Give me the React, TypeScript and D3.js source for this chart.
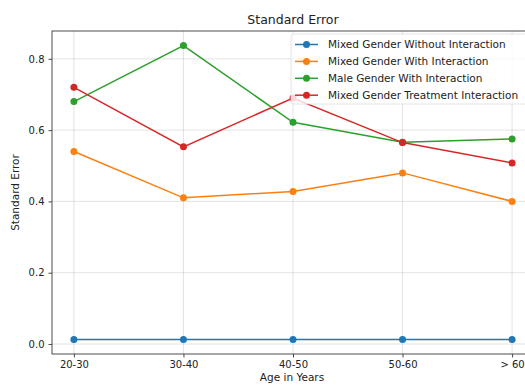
import React, { useEffect, useRef } from 'react';
import * as d3 from 'd3';

const ageGroups = ['20-30', '30-40', '40-50', '50-60', '> 60'];
const seriesNames = [
  'Mixed Gender Without Interaction',
  'Mixed Gender With Interaction',
  'Male Gender With Interaction',
  'Mixed Gender Treatment Interaction',
];
const mixedWithout = [0.013, 0.013, 0.013, 0.013, 0.013];
const mixedWith = [0.54, 0.41, 0.428, 0.48, 0.40];
const maleWith = [0.68, 0.837, 0.622, 0.566, 0.575];
const mixedTreatment = [0.72, 0.553, 0.69, 0.565, 0.508];
const yTicks = [0.0, 0.2, 0.4, 0.6, 0.8];
const colors = ['#1f77b4', '#ff7f0e', '#2ca02c', '#d62728'];

const App = () => {
  const svgRef = useRef<SVGSVGElement>(null);

  useEffect(() => {
    const svg = d3.select(svgRef.current);
    svg.selectAll('*').remove();

    const width = 525;
    const height = 389;
    const margin = { top: 31, right: -9, bottom: 35, left: 52 };
    const innerW = width - margin.left - margin.right;
    const innerH = height - margin.top - margin.bottom;
    const font = 'DejaVu Sans, sans-serif';

    svg.attr('width', width).attr('height', height);

    const x = d3.scalePoint<string>()
      .domain(ageGroups)
      .range([0, innerW])
      .padding(0.2);

    const y = d3.scaleLinear()
      .domain([-0.028, 0.878])
      .range([innerH, 0]);

    const g = svg.append('g')
      .attr('transform', `translate(${margin.left},${margin.top})`);

    // grid
    g.append('g')
      .selectAll('line.gx')
      .data(ageGroups)
      .enter().append('line')
      .attr('x1', d => x(d)!)
      .attr('x2', d => x(d)!)
      .attr('y1', 0)
      .attr('y2', innerH)
      .attr('stroke', '#b0b0b0')
      .attr('stroke-opacity', 0.45)
      .attr('stroke-width', 0.8);

    g.append('g')
      .selectAll('line.gy')
      .data(yTicks)
      .enter().append('line')
      .attr('x1', 0)
      .attr('x2', innerW)
      .attr('y1', d => y(d))
      .attr('y2', d => y(d))
      .attr('stroke', '#b0b0b0')
      .attr('stroke-opacity', 0.45)
      .attr('stroke-width', 0.8);

    // series
    const allSeries = [mixedWithout, mixedWith, maleWith, mixedTreatment];
    const line = d3.line<number>()
      .x((_, i) => x(ageGroups[i])!)
      .y(d => y(d));

    allSeries.forEach((vals, si) => {
      g.append('path')
        .datum(vals)
        .attr('d', line)
        .attr('fill', 'none')
        .attr('stroke', colors[si])
        .attr('stroke-width', 1.5);
      g.selectAll(`circle.s${si}`)
        .data(vals)
        .enter().append('circle')
        .attr('cx', (_, i) => x(ageGroups[i])!)
        .attr('cy', d => y(d))
        .attr('r', 3.5)
        .attr('fill', colors[si]);
    });

    // axes
    const xAxis = g.append('g')
      .attr('transform', `translate(0,${innerH})`)
      .call(d3.axisBottom(x).tickSize(3.5).tickPadding(3));
    const yAxis = g.append('g')
      .call(d3.axisLeft(y).tickValues(yTicks).tickFormat(d3.format('.1f')).tickSize(3.5).tickPadding(4));

    [xAxis, yAxis].forEach(a => {
      a.selectAll('text')
        .style('font-family', font)
        .style('font-size', '10px')
        .attr('fill', '#222');
      a.selectAll('line').attr('stroke', '#222').attr('stroke-width', 0.8);
      a.select('.domain').remove();
    });

    // spines
    g.append('rect')
      .attr('x', 0)
      .attr('y', 0)
      .attr('width', innerW)
      .attr('height', innerH)
      .attr('fill', 'none')
      .attr('stroke', '#222')
      .attr('stroke-width', 0.8);

    // title and labels
    svg.append('text')
      .attr('x', margin.left + innerW / 2)
      .attr('y', 24)
      .attr('text-anchor', 'middle')
      .style('font-family', font)
      .style('font-size', '12.5px')
      .attr('fill', '#222')
      .text('Standard Error');

    svg.append('text')
      .attr('x', margin.left + innerW / 2 - 1)
      .attr('y', 381)
      .attr('text-anchor', 'middle')
      .style('font-family', font)
      .style('font-size', '10.5px')
      .attr('fill', '#222')
      .text('Age in Years');

    svg.append('text')
      .attr('transform', `translate(19,${margin.top + innerH / 2}) rotate(-90)`)
      .attr('text-anchor', 'middle')
      .style('font-family', font)
      .style('font-size', '10.5px')
      .attr('fill', '#222')
      .text('Standard Error');

    // legend
    const legend = svg.append('g').attr('transform', 'translate(291,34)');
    legend.append('rect')
      .attr('x', 0)
      .attr('y', 0)
      .attr('width', 250)
      .attr('height', 70)
      .attr('rx', 3)
      .attr('fill', 'white')
      .attr('fill-opacity', 0.8)
      .attr('stroke', '#ddd')
      .attr('stroke-width', 0.8);

    seriesNames.forEach((name, i) => {
      const ly = 10.5 + i * 16.9;
      legend.append('line')
        .attr('x1', 4)
        .attr('x2', 27)
        .attr('y1', ly)
        .attr('y2', ly)
        .attr('stroke', colors[i])
        .attr('stroke-width', 1.5);
      legend.append('circle')
        .attr('cx', 15.5)
        .attr('cy', ly)
        .attr('r', 3.5)
        .attr('fill', colors[i]);
      legend.append('text')
        .attr('x', 37)
        .attr('y', ly + 3.7)
        .style('font-family', font)
        .style('font-size', '10.5px')
        .attr('fill', '#222')
        .text(name);
    });
  }, []);

  return (
    <div style={{ position: 'absolute', left: 0, top: 0 }}>
      <svg ref={svgRef}></svg>
    </div>
  );
};

export default App;
